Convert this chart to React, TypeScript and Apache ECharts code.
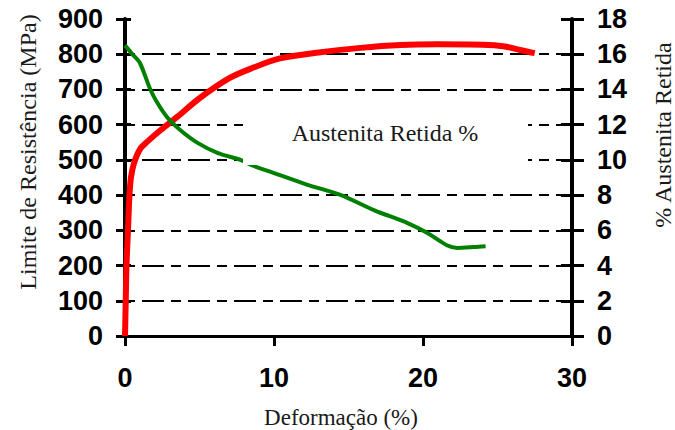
import React, { useEffect, useRef } from "react";
import * as echarts from "echarts";

// Limite de Resistência (MPa) vs Deformação (%)
const strengthStrain = [0, 0.05, 0.1, 0.2, 0.3, 0.4, 0.6, 1.0, 1.5, 2.4, 3.5, 5, 7, 8.5, 10.4, 13, 15.8, 18.5, 21, 24, 25.5, 26.5, 27.5];
const strengthMPa = [0, 100, 200, 300, 400, 450, 490, 530, 552, 585, 622, 675, 732, 760, 788, 805, 818, 826, 828, 827, 822, 812, 803];

// % Austenita Retida vs Deformação (%)
const austeniteStrain = [0, 0.5, 1.0, 1.7, 2.2, 2.85, 3.7, 4.9, 6.2, 7.75, 8.5, 10, 12.2, 14.5, 16.7, 19, 20.3, 21.6, 22.3, 23.4, 24.2];
const austenitePct = [16.5, 16.0, 15.5, 14.0, 13.2, 12.4, 11.7, 10.95, 10.4, 10.0, 9.7, 9.25, 8.6, 8.0, 7.15, 6.4, 5.85, 5.15, 5.0, 5.05, 5.1];

const xTicks = { min: 0, max: 30, interval: 10 };
const leftTicks = { min: 0, max: 900, interval: 100 };
const rightTicks = { min: 0, max: 18, interval: 2 };

const xName = "Deformação (%)";
const leftName = "Limite de Resistência (MPa)";
const rightName = "% Austenita Retida";
const boxLabel = "Austenita Retida %";

const zip = (a: number[], b: number[]) => a.map((v, i) => [v, b[i]]);

export default function App() {
  const ref = useRef<HTMLDivElement>(null);
  useEffect(() => {
    if (!ref.current) return;
    const chart = echarts.init(ref.current, undefined, { renderer: "svg" });
    const labelFont = {
      fontFamily: "Liberation Sans, Arial, sans-serif",
      fontWeight: "bold" as const,
      fontSize: 27,
      color: "#000",
    };
    const serif = "Liberation Serif, Times New Roman, serif";
    const gridBox = { left: 125, right: 103, top: 19, bottom: 94 };
    chart.setOption({
      animation: false,
      backgroundColor: "#fff",
      grid: [
        { ...gridBox, containLabel: false },
        { ...gridBox, containLabel: false },
      ],
      xAxis: [
        {
          type: "value",
          gridIndex: 0,
          ...xTicks,
          axisLine: { lineStyle: { color: "#000", width: 3 } },
          axisTick: { length: 10, lineStyle: { color: "#000", width: 3 } },
          axisLabel: { ...labelFont, margin: 28 },
          splitLine: { show: false },
        },
        {
          type: "value",
          gridIndex: 1,
          ...xTicks,
          show: false,
        },
      ],
      yAxis: [
        {
          type: "value",
          gridIndex: 0,
          position: "left",
          ...leftTicks,
          axisLine: { show: true, lineStyle: { color: "#000", width: 4 } },
          axisTick: { show: true, length: 9, lineStyle: { color: "#000", width: 3 } },
          axisLabel: { ...labelFont, margin: 22 },
          splitLine: {
            show: true,
            showMinLine: false,
            showMaxLine: false,
            lineStyle: { color: "#000", width: 2, type: [10, 7, 22, 7] },
          },
        },
        {
          type: "value",
          gridIndex: 0,
          position: "right",
          ...rightTicks,
          axisLine: { show: true, lineStyle: { color: "#000", width: 4 } },
          axisTick: { show: true, length: 12, lineStyle: { color: "#000", width: 3 } },
          axisLabel: { ...labelFont, margin: 25 },
          splitLine: { show: false },
        },
        {
          type: "value",
          gridIndex: 1,
          position: "left",
          ...leftTicks,
          axisLine: { show: false },
          axisTick: { show: true, inside: true, length: 6, lineStyle: { color: "#000", width: 3 } },
          axisLabel: { show: false },
          splitLine: { show: false },
        },
        {
          type: "value",
          gridIndex: 1,
          position: "right",
          ...rightTicks,
          axisLine: { show: false },
          axisTick: { show: true, inside: true, length: 11, lineStyle: { color: "#000", width: 3 } },
          axisLabel: { show: false },
          splitLine: { show: false },
        },
      ],
      series: [
        {
          type: "line",
          xAxisIndex: 0,
          yAxisIndex: 0,
          data: zip(strengthStrain, strengthMPa),
          showSymbol: false,
          smooth: 0.3,
          lineStyle: { color: "#ff0000", width: 6 },
          z: 3,
        },
        {
          type: "line",
          xAxisIndex: 0,
          yAxisIndex: 1,
          data: zip(austeniteStrain, austenitePct),
          showSymbol: false,
          smooth: 0.3,
          lineStyle: { color: "#008000", width: 4 },
          z: 4,
        },
      ],
      graphic: [
        {
          type: "rect",
          z: 100,
          shape: { x: 243, y: 110, width: 285, height: 55 },
          style: { fill: "#fff" },
        },
        {
          type: "text",
          z: 101,
          x: 385,
          y: 133,
          style: {
            text: boxLabel,
            fontFamily: serif,
            fontSize: 24,
            fill: "#1a1a1a",
            align: "center",
            verticalAlign: "middle",
          },
        },
        {
          type: "text",
          z: 101,
          x: 28,
          y: 152,
          rotation: Math.PI / 2,
          style: {
            text: leftName,
            fontFamily: serif,
            fontSize: 24,
            fill: "#1a1a1a",
            align: "center",
            verticalAlign: "middle",
          },
        },
        {
          type: "text",
          z: 101,
          x: 663,
          y: 135,
          rotation: Math.PI / 2,
          style: {
            text: rightName,
            fontFamily: serif,
            fontSize: 24,
            fill: "#1a1a1a",
            align: "center",
            verticalAlign: "middle",
          },
        },
        {
          type: "text",
          z: 101,
          x: 341,
          y: 417,
          style: {
            text: xName,
            fontFamily: serif,
            fontSize: 23,
            fill: "#1a1a1a",
            align: "center",
            verticalAlign: "middle",
          },
        },
      ],
    });
    return () => chart.dispose();
  }, []);
  return (
    <div
      ref={ref}
      style={{ position: "fixed", left: 0, top: 0, width: 675, height: 430 }}
    />
  );
}
